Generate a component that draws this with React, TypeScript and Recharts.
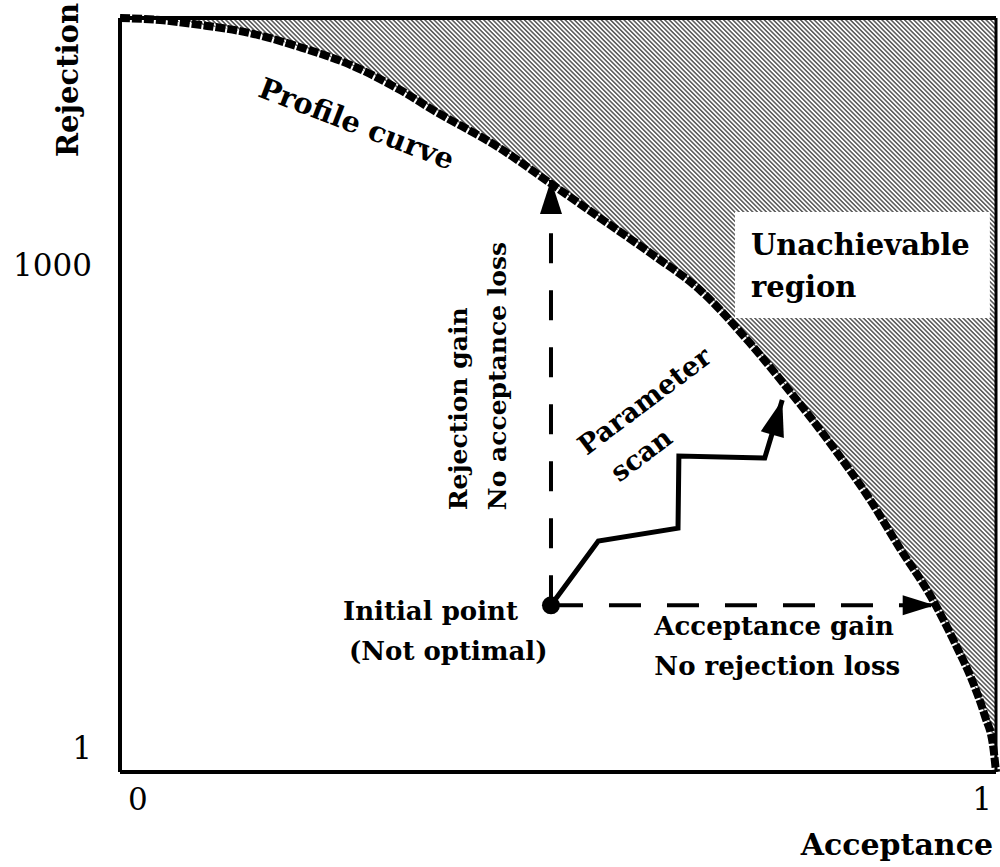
import {
  Area,
  ComposedChart,
  Line,
  ReferenceArea,
  ReferenceDot,
  ReferenceLine,
  XAxis,
  YAxis,
} from 'recharts'

const FONT = '"DejaVu Serif", "Liberation Serif", serif'
const INK = '#000'

// profile curve: acceptance 0..1, rejection on a log axis
const acceptance = [
  0, 0.046, 0.091, 0.148, 0.205, 0.263, 0.32, 0.357, 0.434, 0.491, 0.548, 0.605,
  0.662, 0.719, 0.757, 0.814, 0.856, 0.89, 0.928, 0.953, 0.974, 0.987, 0.997, 1,
]
const rejection = [
  34200, 33200, 31000, 27600, 22600, 17500, 12200, 9200, 5300, 3230, 1960, 1190,
  700, 328, 185, 74, 35, 17.5, 8.3, 4.5, 2.53, 1.6, 1.0, 0.71,
]

const R_MIN = 0.71
const R_MAX = 34200
const xTicks = [0, 1]
const yTicks = [1, 1000]

// the non-optimal starting point and where the two gain arrows end
const initialAcceptance = 0.492
const initialRejection = 7.7
const rejectionGainTip = 3370
const acceptanceGainTip = 0.93

// parameter scan path, starting at the initial point
const scanAcceptance = [0.492, 0.546, 0.637, 0.638, 0.736, 0.756]
const scanRejection = [7.7, 19.3, 23.2, 65.1, 63.3, 145]

const profile = acceptance.map((a, i) => ({ a, r: rejection[i] }))
const scan = scanAcceptance.map((a, i) => ({ a, r: scanRejection[i] }))
const upArrow = [
  { a: initialAcceptance, r: initialRejection },
  { a: initialAcceptance, r: rejectionGainTip },
]
const rightArrow = [
  { a: initialAcceptance, r: initialRejection },
  { a: acceptanceGainTip, r: initialRejection },
]

function arrowHead(last: number, angle: number, len = 34, wid = 22) {
  return (p: any) => {
    if (p.index !== last || p.cx == null) return <g key={`n-${p.index}`} />
    return (
      <polygon
        key={`arrow-${p.index}`}
        points={`0,0 ${-len},${-wid / 2} ${-len},${wid / 2}`}
        transform={`translate(${p.cx},${p.cy}) rotate(${angle})`}
        fill={INK}
      />
    )
  }
}

// text pinned to a data position; lines: [text, dx, dy]
function note(
  key: string,
  a: number,
  r: number,
  lines: [string, number, number][],
  opts: { size?: number; weight?: number; rotate?: number; anchor?: string } = {},
) {
  const { size = 26, weight = 700, rotate = 0, anchor = 'start' } = opts
  return (
    <ReferenceDot
      key={key}
      x={a}
      y={r}
      r={0}
      fill="none"
      stroke="none"
      label={{
        content: (p: any) => {
          const v = p.viewBox
          return (
            <g transform={`translate(${v.x},${v.y}) rotate(${rotate})`}>
              {lines.map(([t, dx, dy]) => (
                <text
                  key={t}
                  x={dx}
                  y={dy}
                  textAnchor={anchor as any}
                  fontFamily={FONT}
                  fontSize={size}
                  fontWeight={weight}
                  fill={INK}
                >
                  {t}
                </text>
              ))}
            </g>
          )
        },
      }}
    />
  )
}

const YTick = (p: any) => (
  <text x={p.x} y={p.y} dy={11} textAnchor="end" fontFamily={FONT} fontSize={31} fill={INK}>
    {p.payload.value}
  </text>
)

const XTick = (p: any) => {
  const first = p.payload.value === 0
  return (
    <text
      x={first ? p.x + 8 : p.x - 4}
      y={p.y + 36}
      textAnchor={first ? 'start' : 'end'}
      fontFamily={FONT}
      fontSize={31}
      fill={INK}
    >
      {p.payload.value}
    </text>
  )
}

export default function App() {
  return (
    <div style={{ position: 'absolute', left: 0, top: 0, width: 1000, height: 867, background: '#fff' }}>
      <svg width={0} height={0} style={{ position: 'absolute' }}>
        <defs>
          <pattern id="hatch" width={3.2} height={3.2} patternUnits="userSpaceOnUse" patternTransform="rotate(-45)">
            <line x1={1.6} y1={0} x2={1.6} y2={3.2} stroke={INK} strokeWidth={1} />
          </pattern>
        </defs>
      </svg>
      <ComposedChart width={1000} height={867} margin={{ top: 18, right: 4, bottom: 0, left: 0 }}>
        <XAxis
          dataKey="a"
          type="number"
          domain={[0, 1]}
          ticks={xTicks}
          tick={XTick}
          tickLine={false}
          tickSize={0}
          height={95}
          axisLine={{ stroke: INK, strokeWidth: 4 }}
          label={{
            content: (p: any) => {
              const v = p.viewBox
              return (
                <text
                  x={v.x + v.width - 3}
                  y={v.y + 83}
                  textAnchor="end"
                  fontFamily={FONT}
                  fontSize={30}
                  fontWeight={700}
                  fill={INK}
                >
                  Acceptance
                </text>
              )
            },
          }}
        />
        <YAxis
          dataKey="r"
          type="number"
          scale="log"
          domain={[R_MIN, R_MAX]}
          ticks={yTicks}
          tick={YTick}
          tickLine={false}
          tickSize={0}
          tickMargin={28}
          width={120}
          axisLine={{ stroke: INK, strokeWidth: 4 }}
          label={{
            content: (p: any) => {
              const v = p.viewBox
              return (
                <text
                  transform={`translate(${v.x + 78},${v.y + 62}) rotate(-90)`}
                  textAnchor="middle"
                  fontFamily={FONT}
                  fontSize={29}
                  fontWeight={700}
                  fill={INK}
                >
                  Rejection
                </text>
              )
            },
          }}
        />

        <Area
          data={profile}
          dataKey="r"
          type="monotone"
          baseValue={R_MAX}
          stroke="none"
          fill="url(#hatch)"
          fillOpacity={1}
          isAnimationActive={false}
        />
        <ReferenceArea
          x1={0.702}
          x2={0.993}
          y1={469}
          y2={2135}
          fill="#fff"
          fillOpacity={1}
          stroke="none"
          label={{
            content: (p: any) => {
              const v = p.viewBox
              return (
                <g fontFamily={FONT} fontSize={29} fontWeight={700} fill={INK}>
                  <text x={v.x + 16} y={v.y + 43}>Unachievable</text>
                  <text x={v.x + 16} y={v.y + 85}>region</text>
                </g>
              )
            },
          }}
        />
        <ReferenceLine y={R_MAX} stroke={INK} strokeWidth={4} />
        <ReferenceLine x={1} stroke={INK} strokeWidth={3} />

        <Line
          data={profile}
          dataKey="r"
          type="monotone"
          stroke={INK}
          strokeWidth={8}
          strokeDasharray="10 2"
          dot={false}
          activeDot={false}
          isAnimationActive={false}
        />
        <Line
          data={upArrow}
          dataKey="r"
          stroke={INK}
          strokeWidth={4}
          strokeDasharray="30 27"
          dot={arrowHead(1, -90)}
          activeDot={false}
          isAnimationActive={false}
        />
        <Line
          data={rightArrow}
          dataKey="r"
          stroke={INK}
          strokeWidth={4}
          strokeDasharray="32 26"
          dot={arrowHead(1, 0, 32, 20)}
          activeDot={false}
          isAnimationActive={false}
        />
        <Line
          data={scan}
          dataKey="r"
          type="linear"
          stroke={INK}
          strokeWidth={5}
          dot={arrowHead(scan.length - 1, -74, 36, 24)}
          activeDot={false}
          isAnimationActive={false}
        />
        <ReferenceDot x={initialAcceptance} y={initialRejection} r={9} fill={INK} stroke="none" />

        {note('profile', 0.266, 6600, [['Profile curve', 0, 0]], { size: 29, rotate: 21, anchor: 'middle' })}
        {note('rgain', 0.396, 30, [
          ['Rejection gain', 0, 0],
          ['No acceptance loss', 0, 39],
        ], { size: 25, rotate: -90 })}
        {note('init', 0.2546, 6.24, [
          ['Initial point', 0, 0],
          ['(Not optimal)', 6, 40],
        ])}
        {note('again', 0.61, 5.03, [
          ['Acceptance gain', 0, 0],
          ['No rejection loss', 0, 40],
        ])}
        {note('scan', 0.605, 129, [
          ['Parameter', 0, 0],
          ['scan', -35, 41],
        ], { size: 27, rotate: -37, anchor: 'middle' })}
      </ComposedChart>
    </div>
  )
}
